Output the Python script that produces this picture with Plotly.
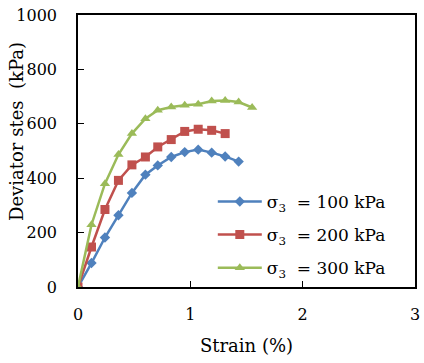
import plotly.graph_objects as go

# Axial strain (%) and deviator stress (kPa) for each confining pressure
strain_100 = [0, 0.12, 0.24, 0.36, 0.48, 0.60, 0.71, 0.83, 0.95, 1.07, 1.19, 1.31, 1.43]
stress_100 = [0, 88, 182, 264, 346, 413, 447, 478, 496, 505, 494, 480, 461]

strain_200 = [0, 0.12, 0.24, 0.36, 0.48, 0.60, 0.71, 0.83, 0.95, 1.07, 1.19, 1.31]
stress_200 = [0, 147, 285, 392, 449, 478, 515, 542, 572, 580, 576, 564]

strain_300 = [0, 0.12, 0.24, 0.36, 0.48, 0.60, 0.71, 0.83, 0.95, 1.07, 1.19, 1.31, 1.43, 1.55]
stress_300 = [0, 229, 380, 487, 564, 619, 650, 662, 668, 672, 684, 686, 680, 660]

names = ["σ<sub>3</sub>\u00a0 = 100 kPa", "σ<sub>3</sub>\u00a0 = 200 kPa", "σ<sub>3</sub>\u00a0 = 300 kPa"]
colors = ["#4F81BD", "#C0504D", "#9BBB59"]
symbols = ["diamond", "square", "triangle-up"]
sizes = [8, 9, 9]

x_ticks = [0, 1, 2, 3]
y_ticks = [0, 200, 400, 600, 800, 1000]

font_family = "DejaVu Serif"

fig = go.Figure()
series = [(strain_100, stress_100), (strain_200, stress_200), (strain_300, stress_300)]
for i, (xs, ys) in enumerate(series):
    fig.add_trace(go.Scatter(
        x=xs, y=ys, name=names[i], mode="lines+markers",
        legendgroup=f"g{i}",
        line=dict(color=colors[i], width=2.5),
        marker=dict(symbol=symbols[i], size=sizes[i], color=colors[i]),
    ))

axis_common = dict(
    showline=True, linecolor="black", linewidth=1.5, mirror=True,
    ticks="inside", ticklen=6, tickwidth=1.2, tickcolor="black",
    showgrid=False, zeroline=False,
    tickfont=dict(family=font_family, size=16, color="black"),
)

fig.update_xaxes(range=[0, 3], tickvals=x_ticks, ticklabelstandoff=12,
                 title=dict(text="Strain (%)", font=dict(family=font_family, size=18, color="black"), standoff=16),
                 **axis_common)
fig.update_yaxes(range=[0, 1000], tickvals=y_ticks, ticklabelstandoff=16,
                 **axis_common)

# Vertical axis title sits partly beside the tick labels, so it is placed as an annotation
fig.add_annotation(
    text="Deviator stes\u00a0 (kPa)", textangle=-90,
    xref="paper", yref="paper", x=-0.181, y=0.57,
    xanchor="center", yanchor="middle", showarrow=False,
    font=dict(family=font_family, size=18, color="black"),
)

fig.update_layout(
    width=424, height=363,
    margin=dict(l=78, r=4, t=15, b=76),
    paper_bgcolor="white", plot_bgcolor="white",
    font=dict(family=font_family, color="black"),
    legend=dict(x=0.4, y=0.379, xanchor="left", yanchor="top",
                bgcolor="rgba(0,0,0,0)", tracegroupgap=8, itemwidth=44,
                font=dict(family=font_family, size=17, color="black")),
)

fig.write_html("out.html")
